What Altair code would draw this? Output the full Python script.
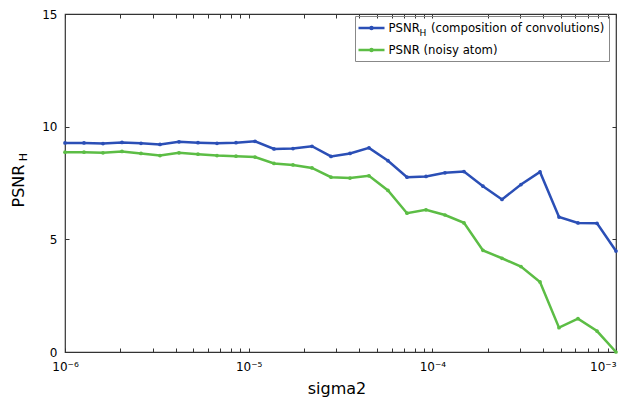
import altair as alt
import pandas as pd

# ---- data ----
sigma2 = [1.000e-6, 1.269e-6, 1.610e-6, 2.043e-6, 2.593e-6, 3.290e-6, 4.175e-6, 5.298e-6, 6.723e-6, 8.532e-6,
          1.083e-5, 1.374e-5, 1.743e-5, 2.212e-5, 2.807e-5, 3.562e-5, 4.520e-5, 5.736e-5, 7.279e-5, 9.237e-5,
          1.172e-4, 1.487e-4, 1.887e-4, 2.395e-4, 3.039e-4, 3.857e-4, 4.894e-4, 6.210e-4, 7.880e-4, 1.000e-3]

psnr_h = [9.28, 9.28, 9.25, 9.30, 9.26, 9.21, 9.33, 9.29, 9.26, 9.29,
          9.35, 9.01, 9.03, 9.13, 8.68, 8.81, 9.06, 8.49, 7.76, 7.79,
          7.95, 8.01, 7.36, 6.77, 7.43, 7.99, 5.99, 5.73, 5.71, 4.48]

psnr_noisy = [8.87, 8.87, 8.84, 8.90, 8.81, 8.72, 8.84, 8.78, 8.72, 8.69,
              8.65, 8.37, 8.30, 8.17, 7.76, 7.72, 7.82, 7.17, 6.16, 6.31,
              6.08, 5.73, 4.51, 4.16, 3.79, 3.11, 1.08, 1.48, 0.93, 0.00]

series_names = ["PSNR_H (composition of convolutions)", "PSNR (noisy atom)"]
series_colors = ["#2b4fb6", "#5cbd45"]

x_tick_values = [1e-6, 2e-6, 3e-6, 4e-6, 5e-6, 6e-6, 7e-6, 8e-6, 9e-6,
                 1e-5, 2e-5, 3e-5, 4e-5, 5e-5, 6e-5, 7e-5, 8e-5, 9e-5,
                 1e-4, 2e-4, 3e-4, 4e-4, 5e-4, 6e-4, 7e-4, 8e-4, 9e-4, 1e-3]
y_tick_values = [0, 5, 10, 15]

x_title = "sigma2"
y_title_main = "PSNR"
y_title_sub = "H"

df = pd.DataFrame({
    "sigma2": sigma2 * 2,
    "value": psnr_h + psnr_noisy,
    "series": [series_names[0]] * len(sigma2) + [series_names[1]] * len(sigma2),
})

W, H = 551, 338
FONT = "DejaVu Sans"

xscale = alt.Scale(type="log", domain=[1e-6, 1e-3], nice=False)
yscale = alt.Scale(domain=[0, 15], nice=False, zero=True)

lab = ("abs(log(datum.value)/LN10+6)<0.01 ? '10\u207b\u2076' : "
       "abs(log(datum.value)/LN10+5)<0.01 ? '10\u207b\u2075' : "
       "abs(log(datum.value)/LN10+4)<0.01 ? '10\u207b\u2074' : "
       "abs(log(datum.value)/LN10+3)<0.01 ? '10\u207b\u00b3' : ''")

x_axis = alt.Axis(values=x_tick_values, labelExpr=lab, tickSize=4, offset=-4, domain=False,
                  grid=False, labelPadding=9, labelFontSize=12, labelFont=FONT, labelColor="black",
                  labelAlign=alt.ExprRef(expr="datum.value > 0.0009 ? 'right' : 'center'"),
                  tickColor="#333", labelOverlap=False, labelFlush=False, title=None)
y_axis = alt.Axis(values=y_tick_values, tickSize=4, offset=-4, domain=False, grid=False,
                  labelPadding=8, labelFontSize=12, labelFont=FONT, labelColor="black",
                  tickColor="#333", title=None)

sym_path = ("M-2,0H2M-0.15,0A0.15,0.15,0,1,1,0.15,0A0.15,0.15,0,1,1,-0.15,0")

legend = alt.Legend(orient="none", legendX=290, legendY=2, title=None,
                    labelFontSize=11.7, labelFont=FONT, labelColor="black",
                    symbolType=sym_path, symbolSize=169, symbolStrokeWidth=2.5,
                    symbolOffset=4.5, labelOffset=9, padding=4, rowPadding=7,
                    strokeColor="#888", labelLimit=0,
                    labelExpr="replace(datum.label, 'PSNR_H', 'PSNR\u00a0\u00a0')")

color = alt.Color("series:N", scale=alt.Scale(domain=series_names, range=series_colors),
                  sort=series_names, legend=legend)

lines = alt.Chart(df).mark_line(
    strokeWidth=2.5,
    point=alt.OverlayMarkDef(filled=True, size=14, shape="circle"),
).encode(
    x=alt.X("sigma2:Q", scale=xscale, axis=x_axis),
    y=alt.Y("value:Q", scale=yscale, axis=y_axis),
    color=color,
)

# top/right inner ticks (matlab-like box ticks)
box_ticks = alt.Chart(df).mark_point(opacity=0).encode(
    x=alt.X("sigma2:Q", scale=xscale,
            axis=alt.Axis(orient="top", values=x_tick_values, labels=False, tickSize=4, offset=-4,
                          domain=False, grid=False, tickColor="#333", title=None)),
    y=alt.Y("value:Q", scale=yscale,
            axis=alt.Axis(orient="right", values=y_tick_values, labels=False, tickSize=4, offset=-4,
                          domain=False, grid=False, tickColor="#333", title=None)),
)

def label(text, x, y, size, angle=0, align="center", baseline="middle"):
    return alt.Chart(pd.DataFrame({"t": [text]})).mark_text(
        font=FONT, fontSize=size, angle=angle, align=align, baseline=baseline, color="black"
    ).encode(text="t:N", x=alt.value(x), y=alt.value(y))

ytitle = label(y_title_main, -46.5, 172, 16, angle=270)
ysub = label(y_title_sub, -41, 143, 11, angle=270)
xtitle = label(x_title, 272, 380, 16, baseline="alphabetic")
legsub = label(y_title_sub, 358, 18.5, 9)

chart = alt.layer(lines, box_ticks, ytitle, ysub, xtitle, legsub).resolve_axis(
    x="independent", y="independent"
).properties(
    width=W, height=H,
    autosize=alt.AutoSizeParams(type="none"),
    padding={"left": 57, "top": 6, "right": 4, "bottom": 45},
).configure_view(
    stroke="#333", strokeWidth=1.2
)

chart.save("out.html", embed_options={"renderer": "svg", "actions": False})
